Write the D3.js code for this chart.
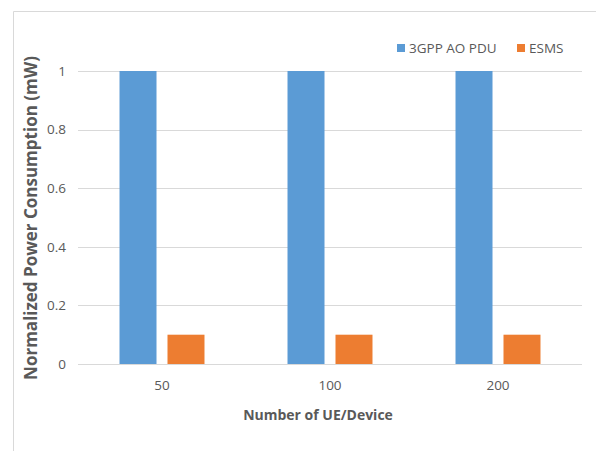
<!DOCTYPE html>
<html lang="en">
<head>
<meta charset="UTF-8">
<script src="https://cdnjs.cloudflare.com/ajax/libs/d3/7.8.5/d3.min.js"></script>
<style>
    body { margin: 0; background: #fff; }
    svg { display: block; font-family: "Open Sans", sans-serif; }
    .tick-label { fill: #595959; font-size: 13.5px; }
    .axis-title { fill: #595959; font-size: 14px; font-weight: bold; }
    .y-title { font-size: 17px; }
    .legend-label { fill: #595959; font-size: 13.5px; }
</style>
<title>Normalized Power Consumption</title>
</head>
<body>
<svg id="chart" width="596" height="451"></svg>
<script>
    // data
    var categories = ['50', '100', '200'];
    var seriesNames = ['3GPP AO PDU', 'ESMS'];
    var aoPdu = [1, 1, 1];
    var esms = [0.1, 0.1, 0.1];
    var yTicks = [0, 0.2, 0.4, 0.6, 0.8, 1];

    var colors = ['#5B9BD5', '#ED7D31'];
    var values = [aoPdu, esms];

    var svg = d3.select('#chart');

    // frame around the chart area (only top and left visible)
    svg.append('path')
        .attr('d', 'M13.5,451 V11.5 H596')
        .attr('fill', 'none')
        .attr('stroke', '#D9D9D9');

    var x0 = d3.scaleBand()
        .domain(categories)
        .range([78, 582])
        .paddingInner(0)
        .paddingOuter(0);

    var x1 = d3.scaleBand()
        .domain(seriesNames)
        .range([0, x0.bandwidth()])
        .paddingInner(0.229)
        .paddingOuter(0.865);

    var y = d3.scaleLinear()
        .domain([0, 1])
        .range([364, 71]);

    // gridlines
    svg.append('g').selectAll('line')
        .data(yTicks)
        .enter().append('line')
        .attr('x1', 78)
        .attr('x2', 582)
        .attr('y1', function(d) { return Math.round(y(d)) + 0.5; })
        .attr('y2', function(d) { return Math.round(y(d)) + 0.5; })
        .attr('stroke', '#D9D9D9')
        .attr('stroke-width', 1);

    // y tick labels
    svg.append('g').selectAll('text')
        .data(yTicks)
        .enter().append('text')
        .attr('class', 'tick-label')
        .attr('x', 66)
        .attr('y', function(d) { return y(d); })
        .attr('dy', '0.35em')
        .attr('text-anchor', 'end')
        .text(function(d) { return d3.format('')(d); });

    // bars
    var rows = [];
    categories.forEach(function(c, i) {
        seriesNames.forEach(function(s, j) {
            rows.push({ cat: c, series: s, value: values[j][i], color: colors[j] });
        });
    });

    svg.append('g').selectAll('rect')
        .data(rows)
        .enter().append('rect')
        .attr('x', function(d) { return x0(d.cat) + x1(d.series); })
        .attr('width', x1.bandwidth())
        .attr('y', function(d) { return y(d.value); })
        .attr('height', function(d) { return y(0) - y(d.value); })
        .attr('fill', function(d) { return d.color; });

    // x tick labels
    svg.append('g').selectAll('text')
        .data(categories)
        .enter().append('text')
        .attr('class', 'tick-label')
        .attr('x', function(d) { return x0(d) + x0.bandwidth() / 2; })
        .attr('y', 390)
        .attr('text-anchor', 'middle')
        .text(function(d) { return d; });

    // axis titles
    svg.append('text')
        .attr('class', 'axis-title')
        .attr('x', 318)
        .attr('y', 420)
        .attr('text-anchor', 'middle')
        .text('Number of UE/Device');

    svg.append('text')
        .attr('class', 'axis-title y-title')
        .attr('transform', 'translate(37,218) rotate(-90)')
        .attr('text-anchor', 'middle')
        .text('Normalized Power Consumption (mW)');

    // legend
    var legendX = [397, 517];
    var legend = svg.append('g').selectAll('g')
        .data(seriesNames)
        .enter().append('g')
        .attr('transform', function(d, i) { return 'translate(' + legendX[i] + ',44)'; });

    legend.append('rect')
        .attr('width', 8)
        .attr('height', 8)
        .attr('fill', function(d, i) { return colors[i]; });

    legend.append('text')
        .attr('class', 'legend-label')
        .attr('x', 12)
        .attr('y', 9)
        .text(function(d) { return d; });
</script>
</body>
</html>
